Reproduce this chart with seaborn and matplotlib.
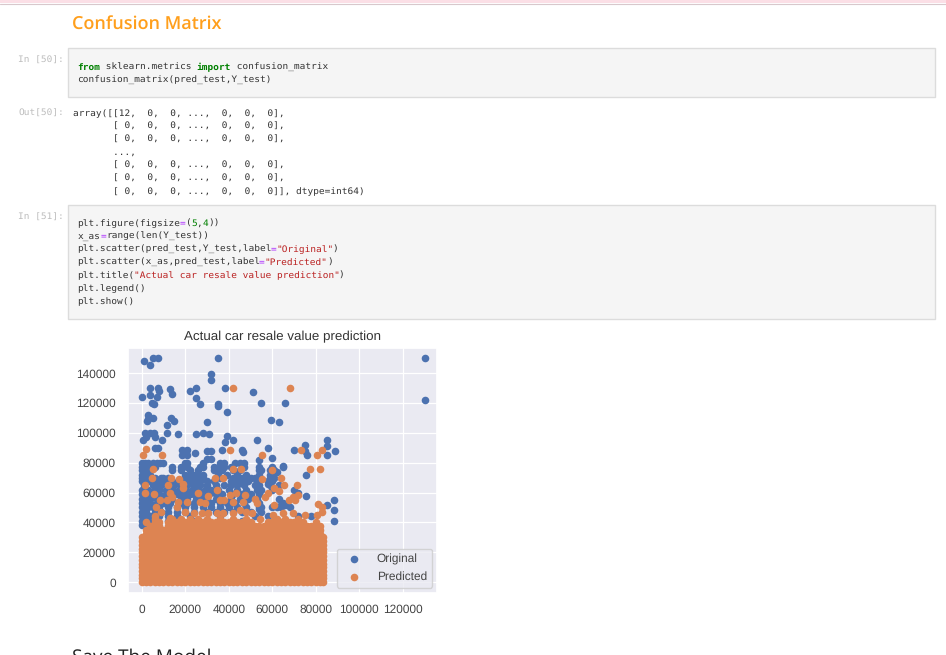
import pandas as pd
import seaborn as sns
import matplotlib.pyplot as plt
from matplotlib.patches import Rectangle

# scatter values in thousands
title = "Actual car resale value prediction"
x_ticks = [0, 20000, 40000, 60000, 80000, 100000, 120000]
y_ticks = [0, 20000, 40000, 60000, 80000, 100000, 120000, 140000]

# blue points that stand alone
blue_x = [1, 5, 4, 7.5, 35, 32, 32, 130, 130, 0, 4, 4, 5.5, 4.7, 7.5, 8, 7, 13, 14, 22, 25, 25, 27,
          38.5, 35, 35, 39, 51, 55, 66, 59.5, 63, 30, 13.5, 15, 11.5, 11.5, 16.5, 3, 3, 5, 2.5,
          1.5, 4, 5.5, 0.5, 2, 6, 9.5, 25, 28, 31, 39, 38.5, 42, 53, 85, 85, 75, 70, 58, 89,
          85, 76, 75, 46, 46.5, 37, 60, 54, 65, 75.5, 6, 7.5, 18.4, 20.7, 18.4, 20.7, 24.5, 30,
          32, 30, 32, 88.5, 88.5, 88.5, 85, 75.5, 70, 64, 60, 54, 62, 58, 66, 72, 68]
blue_y = [148, 150, 145.5, 150, 150, 139.5, 135.5, 150, 122, 124, 130, 125, 119, 120, 130, 128, 124,
          129, 126, 128, 130, 123, 119, 130, 119.5, 118, 114, 127, 120, 120, 108.5, 107, 107.5,
          110, 108, 105, 100, 99, 112, 109, 110, 108, 100, 100, 100, 95, 97, 97.5, 95, 99, 100,
          99, 98, 94, 95, 95, 95, 91.5, 92, 88.5, 90, 88, 85, 85, 87.5, 88.5, 87, 88.5, 83, 82,
          77.5, 72, 90, 90, 88.6, 88.6, 85, 85, 86.5, 87.5, 87.5, 82.5, 82.5, 55, 48.5, 41, 52,
          58, 62, 52, 50, 49, 74, 66, 52, 60, 50]

# the dense part of the blue cloud, one row of x values per y value
blue_row_y = [80, 77, 75, 72, 70, 68, 65, 62, 59, 56, 53, 50, 47, 44, 41, 38]
blue_row_x = [
    [0, 1.5, 3, 5, 7, 8.5, 10, 20, 21, 28, 36, 38, 43, 45, 47],
    [0, 2, 4, 6, 14, 18, 21, 27, 28, 33, 36, 38, 41, 47, 54, 60, 65],
    [0, 1.5, 3, 14, 18, 22, 26, 33, 35, 37, 42, 45, 54, 55, 59, 61],
    [0, 2, 4, 20, 22, 24, 26, 28, 35, 39, 44, 48, 54, 59, 60],
    [0, 1, 3, 6, 9, 10, 12, 20, 22, 24, 26, 28, 36, 42, 44, 46, 48, 50, 52, 59, 61],
    [0, 2, 4, 7, 9, 11, 14, 17, 20, 23, 25, 27, 30, 33, 41, 43, 45, 47, 49, 53, 58, 60],
    [1, 5, 7, 9, 12, 15, 18, 21, 24, 27, 30, 34, 38, 41, 44, 47, 52, 54, 59, 63],
    [0, 3, 6, 8, 11, 14, 17, 20, 23, 26, 29, 32, 35, 40, 44, 48, 53, 55, 60],
    [0, 2, 5, 8, 11, 16, 19, 22, 24, 28, 31, 34, 37, 42, 46, 50, 54],
    [0, 2, 4, 7, 10, 14, 18, 21, 25, 27, 30, 34, 41, 45, 49, 53, 63],
    [0, 2, 4, 7, 10, 13, 18, 21, 24, 28, 32, 36, 39, 43, 47, 54, 65],
    [0, 3, 5, 8, 12, 16, 20, 24, 28, 32, 36, 40, 44, 48, 54, 55, 62, 64],
    [0, 2, 6, 9, 12, 16, 20, 24, 30, 34, 38, 42, 46, 50, 55],
    [0, 2, 4, 8, 12, 16, 22, 36, 52, 58, 72, 78],
    [0, 1, 3, 12, 24, 46],
    [0, 1],
]

# orange points above the solid block
orange_x = [0.5, 2, 9.5, 5, 4.5, 1.5, 1.5, 5.5, 12, 13.5, 17, 19, 19, 26, 13, 14, 8.5, 11.5, 16.5, 21,
            30.5, 27, 29, 33.5, 37.5, 34.5, 40.5, 42, 68, 42, 45.5, 55.5, 55.5, 60, 64, 65.5, 71.5,
            73, 77.5, 80.5, 83, 82, 40.5, 43.5, 47.5, 36, 38, 42, 46.5, 52, 53, 56.5, 58, 61, 63,
            61, 67.5, 69.5, 72, 70.5, 81, 82.7, 2, 6, 6.5, 9, 16, 13, 20, 24, 27.5, 30.5, 34.5,
            37.5, 42, 45, 48, 50.5, 54.5, 60.5, 65, 69.5, 75, 80.5, 83]
orange_y = [85, 89, 85, 75.5, 69.5, 65, 60, 59, 65, 70, 69, 66, 63, 60, 60, 57, 55, 55, 54, 54, 58, 54,
            53, 70, 70, 62, 88.5, 130, 130, 75.5, 75.5, 85, 69, 75, 70, 65, 65, 88.5, 75.5, 85,
            88.5, 76, 58.5, 59.5, 58.5, 55, 55, 54, 54, 56, 53, 57, 59.5, 63, 61, 52, 55, 57, 58.5,
            55, 52.5, 50, 40.5, 44, 50, 47, 50.5, 43, 47, 46, 46, 46, 46, 46, 46, 48.5, 47, 46, 42,
            45, 46, 46, 45, 45, 47]

# the solid orange block: x positions and how high the block reaches at each
block_y = [0, 2.5, 5, 7.5, 10, 12.5, 15, 17.5, 20, 22.5, 25, 27.5, 30, 32.5, 35, 37.5, 40, 42.5]
block_x = [0, 2, 4, 6, 8, 10, 12, 14, 16, 18, 20, 22, 24, 26, 28, 30, 32, 34, 36, 38, 40, 42,
           44, 46, 48, 50, 52, 54, 56, 58, 60, 62, 64, 66, 68, 70, 72, 74, 76, 78, 80, 82, 83.5]
block_top = [32, 35, 37.5, 42.5, 40, 35, 40, 42.5, 40, 42.5, 40, 42.5, 40, 42.5, 40, 42.5, 40, 40,
             42.5, 40, 40, 42.5, 40, 40, 42.5, 40, 38, 37.5, 37.5, 40, 40, 42.5, 40, 42.5, 40, 40,
             42.5, 40, 37.5, 37.5, 40, 37.5, 32]

blue_color = "#4c72b0"
orange_color = "#dd8452"

rows = [pd.DataFrame({"x": xs, "y": y}) for xs, y in zip(blue_row_x, blue_row_y)]
original = pd.concat([pd.DataFrame({"x": blue_x, "y": blue_y})] + rows) * 1000

block = pd.DataFrame({"x": block_x, "top": block_top}).merge(pd.DataFrame({"y": block_y}), how="cross")
block = block[block["y"] <= block["top"]][["x", "y"]]
predicted = pd.concat([pd.DataFrame({"x": orange_x, "y": orange_y}), block]) * 1000

sns.set_theme()
plt.rcParams["text.hinting"] = "no_hinting"
W, H = 946, 655
fig = plt.figure(figsize=(W / 100, H / 100), dpi=100, facecolor="white")

# notebook page behind the chart, in pixels of the screenshot
page = fig.add_axes([0, 0, 1, 1])
page.set_xlim(0, W)
page.set_ylim(H, 0)
page.axis("off")
page.add_patch(Rectangle((0, 0), W, 3, fc="#fbdfe6", ec="none"))
page.plot([0, W], [3.5, 3.5], color="#d8c8cc", lw=0.8)
for top, bottom in [(48, 97), (205, 319)]:
    page.add_patch(Rectangle((68, top), 867, bottom - top, fc="#f5f5f5", ec="#dcdcdc", lw=1))

DEF = "#333333"
GREEN = "#008000"
PURPLE = "#aa22ff"
RED = "#ba2121"
CHAR_W = 5.67


def code_line(x, y, parts):
    # one text per coloured token, monospace so the advance is fixed
    for text, color in parts:
        page.text(x, y, text, color=color, family="DejaVu Sans Mono", size=6.8, va="center", ha="left",
                  weight="bold" if text in ("from", "import") else "normal")
        x += CHAR_W * len(text)


def prompt(y, text):
    page.text(18, y, text, color="#bdbdbd", family="DejaVu Sans Mono", size=6.8, va="center")


page.text(72, 24.5, "Confusion Matrix", color="#ff9f1c", family="Open Sans", size=13, weight="semibold", va="center")
prompt(60.5, "In [50]:")
code_line(77.5, 67, [("from", GREEN), (" sklearn.metrics ", DEF), ("import", GREEN), (" confusion_matrix", DEF)])
code_line(77.5, 80, [("confusion_matrix(pred_test,Y_test)", DEF)])

prompt(113.5, "Out[50]:")
out_lines = ["array([[12,  0,  0, ...,  0,  0,  0],",
             "       [ 0,  0,  0, ...,  0,  0,  0],",
             "       [ 0,  0,  0, ...,  0,  0,  0],",
             "       ...,",
             "       [ 0,  0,  0, ...,  0,  0,  0],",
             "       [ 0,  0,  0, ...,  0,  0,  0],",
             "       [ 0,  0,  0, ...,  0,  0,  0]], dtype=int64)"]
for i, line in enumerate(out_lines):
    code_line(72.5, 113.5 + i * 13, [(line, DEF)])

prompt(217.5, "In [51]:")
code_lines = [
    [("plt.figure(figsize", DEF), ("=", PURPLE), ("(", DEF), ("5", GREEN), (",", DEF), ("4", GREEN), ("))", DEF)],
    [("x_as", DEF), ("=", PURPLE), ("range(len(Y_test))", DEF)],
    [("plt.scatter(pred_test,Y_test,label", DEF), ("=", PURPLE), ('"Original"', RED), (")", DEF)],
    [("plt.scatter(x_as,pred_test,label", DEF), ("=", PURPLE), ('"Predicted"', RED), (")", DEF)],
    [("plt.title(", DEF), ('"Actual car resale value prediction"', RED), (")", DEF)],
    [("plt.legend()", DEF)],
    [("plt.show()", DEF)],
]
for i, parts in enumerate(code_lines):
    code_line(77.5, 223.5 + i * 13, parts)

page.text(72, 658, "Save The Model", color="#222222", family="Open Sans", size=13.7, va="center")

# the chart itself
left, right, top, bottom = 128, 437, 347.5, 592.5
ax = fig.add_axes([left / W, 1 - bottom / H, (right - left) / W, (bottom - top) / H])
sns.scatterplot(data=original, x="x", y="y", color=blue_color, s=30, linewidth=0, label="Original", ax=ax)
sns.scatterplot(data=predicted, x="x", y="y", color=orange_color, s=30, linewidth=0, label="Predicted", ax=ax)
ax.set_xlim(-6300, 135700)
ax.set_ylim(-6900, 157100)
ax.set_xticks(x_ticks)
ax.set_yticks(y_ticks)
ax.set_xlabel("")
ax.set_ylabel("")
ax.tick_params(axis="x", labelsize=8.6, labelcolor="#444444", pad=2.2)
ax.tick_params(axis="y", labelsize=8.6, labelcolor="#444444", pad=2.8)
ax.grid(color="white", linewidth=0.9)
for label in ax.get_xticklabels() + ax.get_yticklabels():
    label.set_family("Liberation Sans")
ax.set_title(title, family="Liberation Sans", fontsize=9.6, color="#333333", pad=5)
leg = ax.legend(loc="lower right", prop={"family": "Liberation Sans", "size": 8.6}, labelcolor="#444444",
                bbox_to_anchor=(0.985, 0.02), borderaxespad=0, handletextpad=0.9, borderpad=0.45)

plt.savefig("out.png", dpi=100)
